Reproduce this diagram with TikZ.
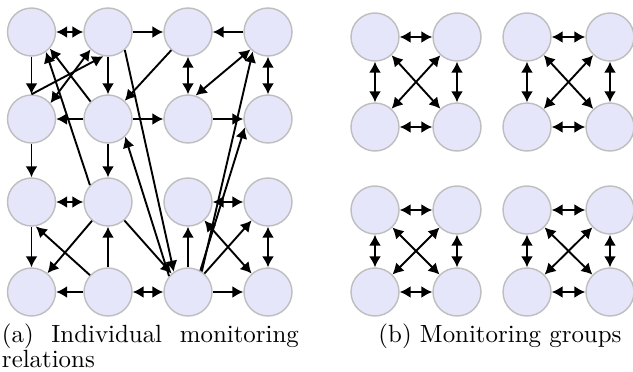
\documentclass[tikz,border=0pt]{standalone}
\usetikzlibrary{arrows.meta}
\definecolor{nodefill}{RGB}{230,230,250}
\definecolor{nodeline}{RGB}{190,190,190}
\begin{document}
\begin{tikzpicture}[x=1pt,y=-1pt,
  peer/.style={circle,minimum size=48pt,inner sep=0pt,fill=nodefill,draw=nodeline,line width=1.4pt},
  rel/.style={line width=1.9pt,-{Latex[length=11pt,width=12pt]}},
  mutual/.style={line width=1.9pt,{Latex[length=11pt,width=12pt]}-{Latex[length=11pt,width=12pt]}},
  captext/.style={inner sep=0pt,scale=2.488,font=\fontsize{10}{9.9}\selectfont}]
\useasboundingbox (0,0) rectangle (633,372);
% left graph nodes
\foreach \r/\y in {A/32,B/119,C/202,D/292}{
  \foreach \c/\x in {0/31.5,1/108,2/188,3/268}{
    \node[peer] (\r\c) at (\x,\y) {};
  }
}
% right group nodes
\foreach \g/\xa/\xb/\ya/\yb in {P/375/457/37/127,Q/527/610/37/127,R/375/457/210/292,S/527/610/210/292}{
  \node[peer] (\g1) at (\xa,\ya) {};
  \node[peer] (\g2) at (\xb,\ya) {};
  \node[peer] (\g3) at (\xa,\yb) {};
  \node[peer] (\g4) at (\xb,\yb) {};
}
% left graph edges
\draw[mutual] (A0) -- (A1);
\draw[rel] (A1) -- (A2);
\draw[rel] (A3) -- (A2);
\draw[rel] (A0) -- (B0);
\draw[rel] (A1) -- (B1);
\draw[mutual] (A2) -- (B2);
\draw[mutual] (A3) -- (B3);
\draw[rel] (B0.north) -- (A1.259);
\draw[mutual] (B0.40) -- (A1.225);
\draw[rel] (B1.135) -- (A0.-42);
\draw[rel] (C1.137) -- (A0.-54);
\draw[rel] (A2) -- (B1);
\draw[rel] (A1.-47) -- (D2.125);
\draw[rel] (D2.140) -- (B1.-46);
\draw[rel] (B1) -- (B0);
\draw[rel] (B1) -- (B2);
\draw[rel] (B2) -- (B3);
\draw[mutual] (B2.72) -- (A3.225);
\draw[rel] (D2.56) -- (A3.232);
\draw[rel] (D2.60) -- (B3.200);
\draw[rel] (B0) -- (C0);
\draw[rel] (B1) -- (C1);
\draw[mutual] (C0) -- (C1);
\draw[rel] (C0) -- (D0);
\draw[rel] (D1.137) -- (C0.-80);
\draw[rel] (C1) -- (D0);
\draw[rel] (D1) -- (C1);
\draw[rel] (D1) -- (D0);
\draw[mutual] (D1) -- (D2);
\draw[rel] (C1) -- (D2);
\draw[rel] (D2) -- (C2);
\draw[mutual] (C2) -- (C3);
\draw[rel] (D2) -- (C3);
\draw[mutual] (C2) -- (D3);
\draw[mutual] (C3) -- (D3);
\draw[rel] (D2) -- (D3);
% right group edges
\foreach \g in {P,Q,R,S}{
  \draw[mutual] (\g1) -- (\g2);
  \draw[mutual] (\g3) -- (\g4);
  \draw[mutual] (\g1) -- (\g3);
  \draw[mutual] (\g2) -- (\g4);
  \draw[mutual] (\g1) -- (\g4);
  \draw[mutual] (\g2) -- (\g3);
}
% captions
\node[captext,text width=119.3pt,align=justify,anchor=north west] (capa) at (1.5,323.5) {(a) Individual monitoring relations};
\node[captext,anchor=base west] (capb) at (378,342) {(b) Monitoring groups};
\end{tikzpicture}
\end{document}
